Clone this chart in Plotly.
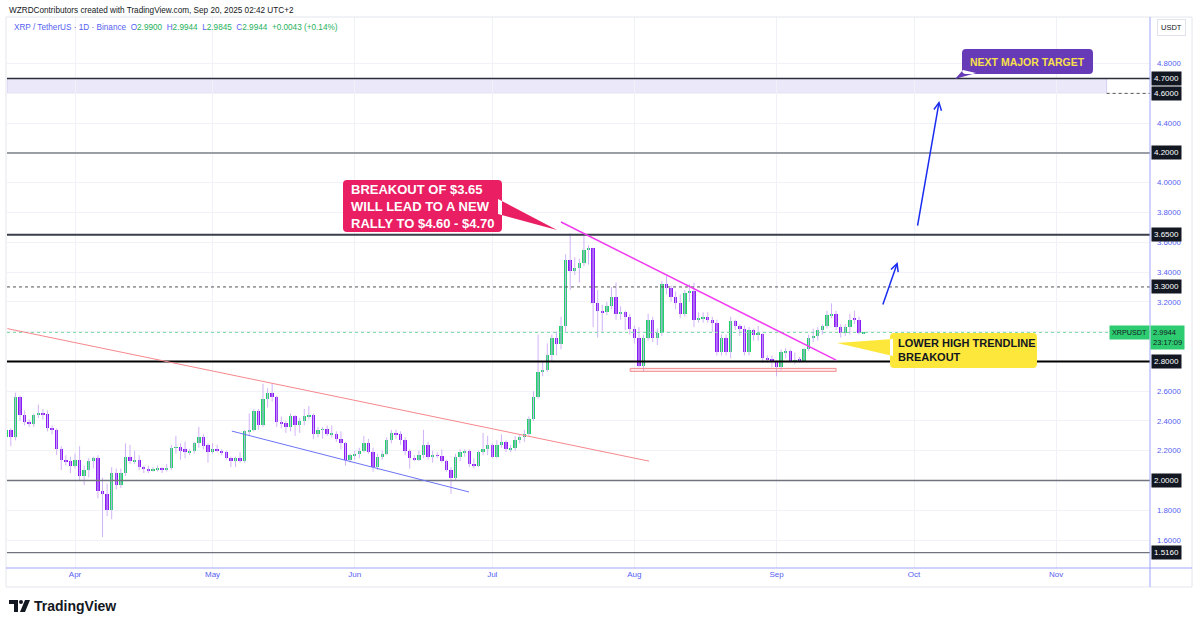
import pandas as pd
import plotly.graph_objects as go

# ---------------- data ----------------
start_date = "2025-03-17"
opens = [2.29, 2.34, 2.29, 2.56, 2.44, 2.39, 2.38, 2.44, 2.45, 2.45, 2.35, 2.34, 2.21, 2.14, 2.13,
         2.10, 2.14, 2.03, 2.07, 2.13, 2.15, 1.93, 1.91, 1.80, 2.05, 1.97, 2.05, 2.16, 2.13, 2.14,
         2.09, 2.08, 2.07, 2.075, 2.085, 2.07, 2.085, 2.22, 2.225, 2.21, 2.19, 2.20, 2.25, 2.29, 2.24,
         2.19, 2.21, 2.20, 2.19, 2.15, 2.13, 2.15, 2.13, 2.33, 2.34, 2.47, 2.37, 2.55, 2.59, 2.56,
         2.39, 2.385, 2.36, 2.43, 2.37, 2.40, 2.43, 2.44, 2.31, 2.34, 2.345, 2.31, 2.315, 2.28, 2.25, 2.14,
         2.17, 2.18, 2.20, 2.25, 2.19, 2.09, 2.16, 2.18, 2.27, 2.32, 2.31, 2.27, 2.20, 2.15, 2.14,
         2.17, 2.24, 2.16, 2.17, 2.165, 2.13, 2.07, 2.02, 2.16, 2.19, 2.195, 2.11, 2.10, 2.19, 2.21,
         2.24, 2.16, 2.24, 2.26, 2.21, 2.22, 2.27, 2.29, 2.31, 2.41, 2.56, 2.73, 2.74, 2.84, 2.96,
         2.92, 3.04, 3.48, 3.41, 3.43, 3.46, 3.55, 3.56, 3.19, 3.14, 3.13, 3.17, 3.23, 3.12, 3.13, 3.10,
         3.02, 2.96, 2.77, 2.96, 3.08, 2.96, 2.99, 3.32, 3.29, 3.23, 3.19, 3.12, 3.26, 3.27, 3.08,
         3.09, 3.10, 3.08, 3.06, 2.86, 2.96, 2.86, 3.07, 3.04, 3.02, 2.86, 3.01, 2.98, 2.985, 2.82, 2.815,
         2.80, 2.76, 2.86, 2.87, 2.80, 2.81, 2.805, 2.88, 2.96, 2.97, 3.01, 3.04, 3.11, 3.12, 3.03,
         2.99, 3.03, 3.09, 3.08, 2.99]
highs = [2.36, 2.35, 2.59, 2.57, 2.47, 2.41, 2.45, 2.51, 2.48, 2.47, 2.37, 2.35, 2.23, 2.17, 2.16,
         2.18, 2.23, 2.10, 2.15, 2.16, 2.17, 2.02, 1.98, 2.09, 2.08, 2.08, 2.25, 2.24, 2.20, 2.17,
         2.10, 2.10, 2.09, 2.10, 2.09, 2.11, 2.24, 2.30, 2.25, 2.26, 2.21, 2.26, 2.36, 2.31, 2.25,
         2.25, 2.24, 2.21, 2.20, 2.16, 2.16, 2.19, 2.34, 2.45, 2.48, 2.48, 2.65, 2.62, 2.65, 2.57,
         2.43, 2.40, 2.45, 2.44, 2.42, 2.48, 2.50, 2.45, 2.36, 2.36, 2.37, 2.37, 2.33, 2.33, 2.26, 2.18,
         2.20, 2.22, 2.30, 2.28, 2.22, 2.18, 2.20, 2.29, 2.34, 2.34, 2.33, 2.29, 2.21, 2.17, 2.20,
         2.34, 2.26, 2.20, 2.19, 2.21, 2.14, 2.09, 2.18, 2.21, 2.21, 2.21, 2.15, 2.20, 2.32, 2.30,
         2.25, 2.27, 2.31, 2.27, 2.24, 2.30, 2.31, 2.34, 2.43, 2.60, 2.98, 2.80, 2.92, 2.98, 3.00,
         3.10, 3.52, 3.66, 3.50, 3.49, 3.66, 3.58, 3.56, 3.28, 3.18, 3.20, 3.30, 3.33, 3.17, 3.14, 3.12,
         3.04, 3.03, 2.98, 3.12, 3.10, 3.02, 3.34, 3.38, 3.31, 3.27, 3.25, 3.28, 3.32, 3.33,
         3.13, 3.13, 3.13, 3.10, 3.08, 2.98, 2.98, 3.10, 3.08, 3.05, 3.04, 3.03, 3.02, 3.04, 2.99, 2.84, 2.84,
         2.81, 2.88, 2.89, 2.88, 2.86, 2.83, 2.89, 2.98, 3.02, 3.03, 3.05, 3.14, 3.19, 3.14,
         3.05, 3.05, 3.12, 3.14, 3.10, 2.9944]
lows = [2.27, 2.23, 2.27, 2.40, 2.37, 2.36, 2.36, 2.42, 2.41, 2.33, 2.31, 2.17, 2.07, 2.10, 2.05,
        2.08, 2.00, 1.97, 2.02, 2.08, 1.88, 1.62, 1.76, 1.74, 1.94, 1.95, 2.03, 2.11, 2.11, 2.07,
        2.05, 2.05, 2.06, 2.06, 2.05, 2.06, 2.07, 2.18, 2.14, 2.15, 2.17, 2.18, 2.22, 2.21, 2.12,
        2.18, 2.19, 2.17, 2.14, 2.09, 2.09, 2.12, 2.12, 2.30, 2.33, 2.34, 2.36, 2.49, 2.53, 2.36,
        2.35, 2.32, 2.33, 2.30, 2.32, 2.37, 2.41, 2.28, 2.29, 2.28, 2.30, 2.29, 2.26, 2.21, 2.10, 2.12,
        2.14, 2.15, 2.19, 2.18, 2.06, 2.07, 2.14, 2.17, 2.25, 2.28, 2.24, 2.17, 2.08, 2.13, 2.13,
        2.15, 2.14, 2.12, 2.15, 2.12, 2.06, 1.91, 2.00, 2.13, 2.16, 2.09, 2.08, 2.09, 2.17, 2.17,
        2.15, 2.15, 2.22, 2.19, 2.19, 2.20, 2.25, 2.26, 2.30, 2.40, 2.55, 2.70, 2.73, 2.80, 2.84,
        2.88, 3.00, 3.28, 3.38, 3.33, 3.44, 3.45, 3.03, 2.96, 3.00, 3.11, 3.15, 3.08, 3.08, 3.01, 2.98,
        2.92, 2.76, 2.73, 2.94, 2.93, 2.91, 2.97, 3.25, 3.20, 3.15, 3.09, 3.10, 3.20, 3.03,
        3.06, 3.06, 3.06, 3.00, 2.84, 2.84, 2.84, 2.82, 3.01, 2.97, 2.84, 2.84, 2.94, 2.94, 2.79, 2.79, 2.76,
        2.70, 2.74, 2.82, 2.79, 2.78, 2.79, 2.80, 2.87, 2.93, 2.94, 2.98, 3.02, 3.09, 3.01,
        2.96, 2.97, 2.98, 3.05, 2.98, 2.9845]
closes = [2.34, 2.29, 2.56, 2.44, 2.39, 2.38, 2.44, 2.45, 2.44, 2.35, 2.34, 2.21, 2.14, 2.13, 2.10,
          2.14, 2.03, 2.07, 2.13, 2.15, 1.93, 1.91, 1.80, 2.05, 1.97, 2.05, 2.16, 2.13, 2.14, 2.09,
          2.08, 2.07, 2.075, 2.085, 2.07, 2.085, 2.22, 2.225, 2.20, 2.19, 2.20, 2.25, 2.29, 2.23, 2.19,
          2.21, 2.20, 2.19, 2.15, 2.13, 2.15, 2.13, 2.33, 2.34, 2.47, 2.37, 2.55, 2.59, 2.56, 2.39,
          2.385, 2.36, 2.43, 2.37, 2.40, 2.43, 2.44, 2.31, 2.34, 2.345, 2.31, 2.315, 2.28, 2.25, 2.14, 2.17,
          2.18, 2.20, 2.25, 2.19, 2.09, 2.16, 2.18, 2.27, 2.32, 2.31, 2.27, 2.20, 2.15, 2.14, 2.17,
          2.24, 2.16, 2.17, 2.165, 2.13, 2.07, 2.02, 2.16, 2.19, 2.195, 2.11, 2.10, 2.19, 2.21, 2.24,
          2.16, 2.24, 2.26, 2.21, 2.22, 2.27, 2.29, 2.31, 2.41, 2.56, 2.73, 2.74, 2.84, 2.96, 2.92,
          3.04, 3.48, 3.41, 3.43, 3.46, 3.55, 3.56, 3.19, 3.14, 3.13, 3.17, 3.23, 3.12, 3.13, 3.10, 3.02,
          2.96, 2.77, 2.96, 3.08, 2.96, 2.99, 3.32, 3.29, 3.23, 3.19, 3.12, 3.26, 3.27, 3.08,
          3.09, 3.10, 3.08, 3.06, 2.86, 2.96, 2.86, 3.07, 3.04, 3.02, 2.86, 3.01, 2.98, 2.985, 2.82, 2.815, 2.80,
          2.76, 2.86, 2.87, 2.80, 2.81, 2.805, 2.88, 2.96, 2.97, 3.01, 3.04, 3.11, 3.12, 3.03,
          2.99, 3.03, 3.08, 3.08, 2.99, 2.9944]
dates = pd.date_range(start_date, periods=len(closes), freq="D")

month_ticks = ["2025-04-01", "2025-05-01", "2025-06-01", "2025-07-01",
               "2025-08-01", "2025-09-01", "2025-10-01", "2025-11-01"]
month_labels = ["Apr", "May", "Jun", "Jul", "Aug", "Sep", "Oct", "Nov"]

price_ticks = [1.6, 1.8, 2.0, 2.2, 2.4, 2.6, 2.8, 3.0, 3.2, 3.4, 3.6, 3.8, 4.0, 4.2, 4.4, 4.6, 4.8]
price_tick_text = ["1.6000", "1.8000", "", "2.2000", "2.4000", "2.6000", "", "", "3.2000", "3.4000",
                   "3.6000", "3.8000", "4.0000", "", "4.4000", "", "4.8000"]

levels = [4.70, 4.20, 3.65, 3.30, 2.80, 2.00, 1.516]
level_labels = ["4.7000", "4.2000", "3.6500", "3.3000", "2.8000", "2.0000", "1.5160"]
target_low, target_high = 4.60, 4.70
target_zone_end = "2025-11-12"
last_price = 2.9944
last_label = "2.9944<br>23:17:09"

red_line_dates = ["2025-03-17 06:00", "2025-08-04 05:00"]
red_line_prices = [3.02, 2.13]
blue_line_dates = ["2025-05-05 05:00", "2025-06-25 22:00"]
blue_line_prices = [2.332, 1.923]
trend_dates = ["2025-07-16", "2025-09-14"]
trend_prices = [3.736, 2.809]
support_zone_dates = ["2025-07-31 02:00", "2025-09-14"]
support_zone_prices = [2.733, 2.753]
arrow1_dates = ["2025-09-24 02:00", "2025-09-27 10:00"]
arrow1_prices = [3.172, 3.467]
arrow2_dates = ["2025-10-01 17:00", "2025-10-06 12:00"]
arrow2_prices = [3.702, 4.549]

x_range = ["2025-03-17 04:00", "2025-11-21 11:00"]
y_range = [1.4124, 5.113]

# ---------------- styling ----------------
GREEN = "#22cf68"
PURPLE = "#8c1cf5"
WICK = "#d0b3f7"
BLUE_TXT = "#5660f2"
AXIS_BLUE = "#9ea6fb"
GRID = "#f0f2f8"
DARK = "#131722"
FONT = "Liberation Sans"

PL, PR, PT, PB = 7, 1150, 17, 568


def pxx(x):
    return (x - PL) / (PR - PL)


def pxy(y):
    return (PB - y) / (PB - PT)


def P(x, y):
    return f"{pxx(x):.5f},{pxy(y):.5f}"


def bubble(x0, y0, x1, y1, r, tail):
    d = (f"M{P(x0 + r, y0)} L{P(x1 - r, y0)} Q{P(x1, y0)} {P(x1, y0 + r)} "
         f"L{P(x1, y1 - r)} Q{P(x1, y1)} {P(x1 - r, y1)} L{P(x0 + r, y1)} "
         f"Q{P(x0, y1)} {P(x0, y1 - r)} L{P(x0, y0 + r)} Q{P(x0, y0)} {P(x0 + r, y0)} Z ")
    d += "M" + " L".join(P(a, b) for a, b in tail) + " Z"
    return d


fig = go.Figure()

# wicks
wx, wy = [], []
for d, h, l in zip(dates, highs, lows):
    wx += [d, d, None]
    wy += [l, h, None]
fig.add_trace(go.Scatter(x=wx, y=wy, mode="lines", line=dict(color=WICK, width=1),
                         hoverinfo="skip"))

# bodies
base = [min(o, c) for o, c in zip(opens, closes)]
size = [max(abs(c - o), 0.005) for o, c in zip(opens, closes)]
cols = [GREEN if c >= o else PURPLE for o, c in zip(opens, closes)]
fig.add_trace(go.Bar(x=dates, y=size, base=base, width=0.74 * 86400000,
                     marker=dict(color=cols, line_width=0)))

shapes = []
# target zone
shapes.append(dict(type="rect", xref="x", yref="y", x0=x_range[0], x1=target_zone_end,
                   y0=target_low, y1=target_high, fillcolor="#ebe8fa",
                   line=dict(color="#d5cff4", width=1), layer="below"))
shapes.append(dict(type="line", xref="x", yref="y", x0=target_zone_end, x1=x_range[1],
                   y0=target_low, y1=target_low, line=dict(color="#555", width=1, dash="3px,3px")))
# support zone
shapes.append(dict(type="rect", xref="x", yref="y", x0=support_zone_dates[0], x1=support_zone_dates[1],
                   y0=support_zone_prices[0], y1=support_zone_prices[1], fillcolor="rgba(247,124,128,0.15)",
                   line=dict(color="#f48a8e", width=1)))

level_styles = {
    4.70: dict(color="#2a2e39", width=1.6),
    4.20: dict(color="#7d808a", width=1.4),
    3.65: dict(color="#3a3e49", width=2),
    3.30: dict(color="#555", width=1, dash="3px,3px"),
    2.80: dict(color="#000000", width=2),
    2.00: dict(color="#70737d", width=1.5),
    1.516: dict(color="#70737d", width=1.3),
}
for lv in levels:
    shapes.append(dict(type="line", xref="paper", yref="y", x0=0, x1=1, y0=lv, y1=lv,
                       line=level_styles[lv], layer="above"))
shapes.append(dict(type="line", xref="paper", yref="y", x0=0, x1=1, y0=last_price, y1=last_price,
                   line=dict(color="#7ddca4", width=1, dash="dot")))

# trend lines
shapes.append(dict(type="line", xref="x", yref="y", x0=red_line_dates[0], x1=red_line_dates[1],
                   y0=red_line_prices[0], y1=red_line_prices[1], line=dict(color="#f7888c", width=1)))
shapes.append(dict(type="line", xref="x", yref="y", x0=blue_line_dates[0], x1=blue_line_dates[1],
                   y0=blue_line_prices[0], y1=blue_line_prices[1], line=dict(color="#6c74f5", width=1)))
shapes.append(dict(type="line", xref="x", yref="y", x0=trend_dates[0], x1=trend_dates[1],
                   y0=trend_prices[0], y1=trend_prices[1], line=dict(color="#f03cf0", width=1.5)))

# frame & axis lines
shapes.append(dict(type="rect", xref="paper", yref="paper", x0=pxx(6), x1=pxx(1192),
                   y0=pxy(587), y1=pxy(17), line=dict(color="#e3e6ee", width=1)))
shapes.append(dict(type="line", xref="paper", yref="paper", x0=pxx(6), x1=pxx(1192),
                   y0=pxy(568), y1=pxy(568), line=dict(color=AXIS_BLUE, width=1)))
shapes.append(dict(type="line", xref="paper", yref="paper", x0=pxx(1150), x1=pxx(1150),
                   y0=pxy(587), y1=pxy(17), line=dict(color=AXIS_BLUE, width=1)))

# callouts
shapes.append(dict(type="path", xref="paper", yref="paper", layer="above",
                   path=bubble(343, 180, 502, 232, 4, [(498, 199), (498, 214), (557, 230)]),
                   fillcolor="#e91e63", line=dict(width=0)))
shapes.append(dict(type="path", xref="paper", yref="paper", layer="above",
                   path=bubble(962, 49, 1093, 74, 4, [(963, 70), (976, 73), (955, 79)]),
                   fillcolor="#673ab7", line=dict(width=0)))
shapes.append(dict(type="path", xref="paper", yref="paper", layer="above",
                   path=bubble(890, 333, 1037, 368, 4, [(893, 339), (893, 356), (837, 343)]),
                   fillcolor="#fde73a", line=dict(width=0)))

# TradingView logo
shapes.append(dict(type="path", xref="paper", yref="paper",
                   path="M" + " L".join(P(a, b) for a, b in [(9, 600), (18, 600), (18, 612), (14, 612), (14, 604), (9, 604)]) + " Z",
                   fillcolor=DARK, line=dict(width=0)))
shapes.append(dict(type="circle", xref="paper", yref="paper", x0=pxx(19), x1=pxx(23), y0=pxy(604), y1=pxy(600),
                   fillcolor=DARK, line=dict(width=0)))
shapes.append(dict(type="path", xref="paper", yref="paper",
                   path="M" + " L".join(P(a, b) for a, b in [(25, 600), (30, 600), (25, 612), (20, 612)]) + " Z",
                   fillcolor=DARK, line=dict(width=0)))

ann = []
# header texts
ann.append(dict(xref="paper", yref="paper", x=pxx(7), y=pxy(10), xanchor="left", yanchor="middle",
                text="WZRDContributors created with TradingView.com, Sep 20, 2025 02:42 UTC+2",
                showarrow=False, font=dict(family=FONT, size=8.2, color=DARK)))
g = "#1fb15c"
hdr = (f"<span style='color:{BLUE_TXT}'>XRP / TetherUS · 1D · Binance</span>  "
       f"<span style='color:{BLUE_TXT}'>O</span><span style='color:{g}'>2.9900</span>  "
       f"<span style='color:{BLUE_TXT}'>H</span><span style='color:{g}'>2.9944</span>  "
       f"<span style='color:{BLUE_TXT}'>L</span><span style='color:{g}'>2.9845</span>  "
       f"<span style='color:{BLUE_TXT}'>C</span><span style='color:{g}'>2.9944</span>  "
       f"<span style='color:{g}'>+0.0043 (+0.14%)</span>")
ann.append(dict(xref="paper", yref="paper", x=pxx(12), y=pxy(28), xanchor="left", yanchor="middle",
                text=hdr, showarrow=False, font=dict(family=FONT, size=8.2)))
ann.append(dict(xref="paper", yref="paper", x=pxx(1171), y=pxy(28), xanchor="center", yanchor="middle",
                text="USDT", showarrow=False, bgcolor="white", bordercolor="#e0e3eb", borderwidth=1,
                borderpad=3, font=dict(family=FONT, size=7.5, color=DARK)))

# level labels
for lv, lab in zip(levels, level_labels):
    ann.append(dict(xref="paper", yref="y", x=1, y=lv, xanchor="left", yanchor="middle", xshift=1,
                    text=lab, showarrow=False, bgcolor=DARK, borderpad=2,
                    font=dict(family=FONT, size=8, color="white")))
ann.append(dict(xref="paper", yref="y", x=1, y=target_low, xanchor="left", yanchor="middle", xshift=1,
                text="4.6000", showarrow=False, bgcolor=DARK, borderpad=2,
                font=dict(family=FONT, size=8, color="white")))
ann.append(dict(xref="paper", yref="y", x=1, y=last_price, xanchor="right", yanchor="middle",
                text="XRPUSDT", showarrow=False, bgcolor="#2ecc71", borderpad=2,
                font=dict(family=FONT, size=7.2, color=DARK)))
ann.append(dict(xref="paper", yref="y", x=1, y=last_price, xanchor="left", yanchor="top", yshift=7,
                text=last_label, showarrow=False, bgcolor="#2ecc71", borderpad=2, align="left",
                font=dict(family=FONT, size=7.5, color=DARK)))

# callout texts
ann.append(dict(xref="paper", yref="paper", x=pxx(349), y=pxy(206), xanchor="left", yanchor="middle",
                text="<b>BREAKOUT OF $3.65<br>WILL LEAD TO A NEW<br>RALLY TO $4.60 - $4.70</b>",
                align="left", showarrow=False, font=dict(family=FONT, size=13, color="white")))
ann.append(dict(xref="paper", yref="paper", x=pxx(1027), y=pxy(61.5), xanchor="center", yanchor="middle",
                text="<b>NEXT MAJOR TARGET</b>", showarrow=False,
                font=dict(family=FONT, size=10.5, color="#f7e04a")))
ann.append(dict(xref="paper", yref="paper", x=pxx(896), y=pxy(350), xanchor="left", yanchor="middle",
                text="<b>LOWER HIGH TRENDLINE<br>BREAKOUT</b>", align="left", showarrow=False,
                font=dict(family=FONT, size=11, color=DARK)))

# arrows
for ad, ap in [(arrow1_dates, arrow1_prices), (arrow2_dates, arrow2_prices)]:
    ann.append(dict(xref="x", yref="y", axref="x", ayref="y", x=ad[1], y=ap[1], ax=ad[0], ay=ap[0],
                    text="", showarrow=True, arrowhead=5, arrowsize=1, arrowwidth=1.5,
                    arrowcolor="#1a2cf0"))

# logo text
ann.append(dict(xref="paper", yref="paper", x=pxx(32), y=pxy(606), xanchor="left", yanchor="middle",
                text="<b>TradingView</b>", showarrow=False, font=dict(family=FONT, size=14, color=DARK)))

fig.update_layout(
    width=1200, height=626,
    margin=dict(l=PL, r=1200 - PR, t=PT, b=626 - PB),
    paper_bgcolor="white", plot_bgcolor="white",
    showlegend=False, bargap=0,
    shapes=shapes, annotations=ann,
    xaxis=dict(type="date", range=x_range, tickvals=month_ticks, ticktext=month_labels,
               showgrid=True, gridcolor=GRID, gridwidth=1, zeroline=False, showline=False,
               ticks="", tickfont=dict(family=FONT, size=8, color=BLUE_TXT), fixedrange=True),
    yaxis=dict(side="right", range=y_range, tickvals=price_ticks, ticktext=price_tick_text,
               showgrid=True, gridcolor=GRID, gridwidth=1, zeroline=False, showline=False,
               ticks="", ticklabelstandoff=6, tickfont=dict(family=FONT, size=7.8, color=BLUE_TXT),
               fixedrange=True),
)

fig.write_html("out.html")
